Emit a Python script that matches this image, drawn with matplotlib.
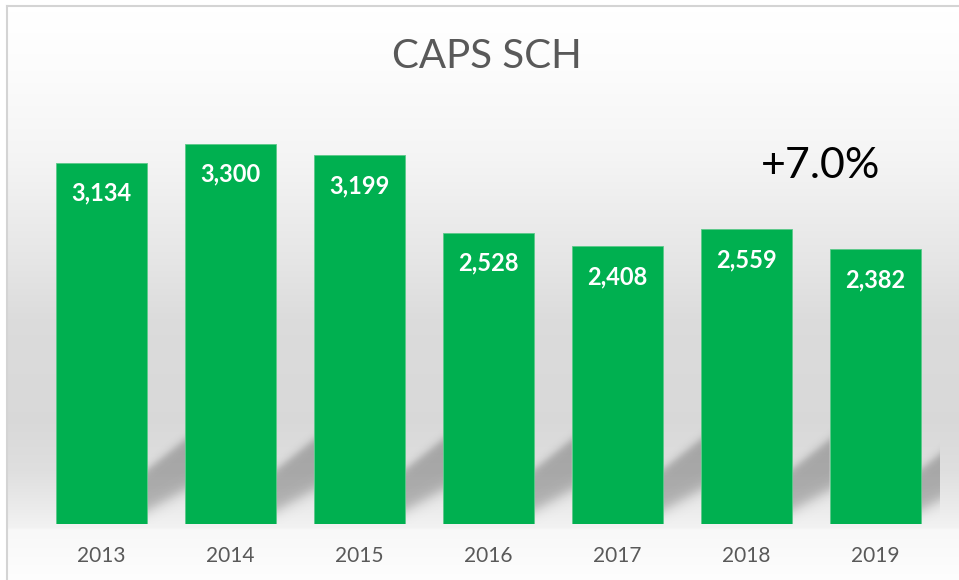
import numpy as np
import matplotlib
matplotlib.use("Agg")
from matplotlib import pyplot as plt
from matplotlib.lines import Line2D

# donnees du graphique
annees = ["2013", "2014", "2015", "2016", "2017", "2018", "2019"]
valeurs = [3134, 3300, 3199, 2528, 2408, 2559, 2382]
titre = "CAPS SCH"
variation = "+7.0%"

vert = "#00B050"
gris_texte = "#595959"
largeur = 0.705

plt.rcParams['font.family'] = ['Lato', 'DejaVu Sans']

W, H = 959, 580
fig = plt.figure(figsize=(W / 100, H / 100), dpi=100)
fig.patch.set_facecolor("white")

# fond en degrade (blanc en haut, gris vers le bas)
def sig(t):
	return 1.0 / (1.0 + np.exp(-t))

yy = np.arange(H)
py = [6, 60, 150, 250, 320, 420, 470, 527, 528, 580]
pg = [1.0, 0.99, 0.96, 0.905, 0.86, 0.85, 0.875, 0.95, 0.972, 0.995]
prof = np.interp(yy, py, pg)
fond = np.repeat(prof[:, None], W, axis=1)
ax_fond = fig.add_axes([7 / W, 0, 1 - 7 / W, 1 - 6 / H])
ax_fond.imshow(np.dstack([fond] * 3), aspect="auto", extent=[0, 1, 0, 1],
	interpolation="bilinear")
ax_fond.set_axis_off()

# cadre du graphique
fig.add_artist(Line2D([7 / W, 1], [1 - 6 / H, 1 - 6 / H], transform=fig.transFigure,
	color="#d4d4d4", lw=1.5))
fig.add_artist(Line2D([7 / W, 7 / W], [0, 1 - 6 / H], transform=fig.transFigure,
	color="#d4d4d4", lw=1.5))

# axe des barres
ymax = 4000
ax = fig.add_axes([37 / W, 56 / H, 903 / W, 461 / H])
ax.set_facecolor("none")
x = np.arange(len(annees))

# ombre portee des barres (bande diagonale dans les intervalles)
nx, ny = 900, 500
xs = np.linspace(-0.5, len(annees) - 0.5, nx)
ys = np.linspace(0, 1000, ny)
XX, YY = np.meshgrid(xs, ys)
rel = XX - np.floor(XX)
dans_trou = (rel > largeur / 2) & (rel < 1 - largeur / 2) | (XX > len(annees) - 1)
u = np.clip((XX - (np.floor(XX) + largeur / 2)) / (1 - largeur), 0, 1)
haut = 470 + 260 * u
bas = 115 + 180 * u
alpha = 0.25 * sig((haut - YY) / 25) * sig((YY - bas) / 35)
alpha = np.where(dans_trou & (XX > -0.5 + (1 - largeur) / 2), alpha, 0)
ombre = np.zeros((ny, nx, 4))
ombre[..., 3] = alpha
ax.imshow(ombre, extent=[-0.5, len(annees) - 0.5, 0, 1000], origin="lower",
	aspect="auto", zorder=1)

ax.bar(x, valeurs, width=largeur, color=vert, edgecolor="#5cc98a", linewidth=0.6,
	zorder=2)

for i in range(len(valeurs)):
	ax.annotate("{:,}".format(valeurs[i]), (x[i], valeurs[i]), xytext=(0, -22),
		textcoords="offset points", ha="center", va="center", color="white",
		fontsize=17, fontweight="bold", zorder=3)

ax.set_xlim(-0.5, len(annees) - 0.5)
ax.set_ylim(0, ymax)
ax.set_xticks(x)
ax.set_xticklabels(annees, fontsize=15, color=gris_texte)
ax.tick_params(axis="x", length=0, pad=16)
ax.set_yticks([])
for s in ax.spines.values():
	s.set_visible(False)

fig.text(487 / W, 1 - 57 / H, titre, ha="center", va="center", fontsize=29,
	color=gris_texte)
fig.text(821 / W, 1 - 166 / H, variation, ha="center", va="center", fontsize=31,
	color="black")

plt.savefig("out.png", dpi=100)
